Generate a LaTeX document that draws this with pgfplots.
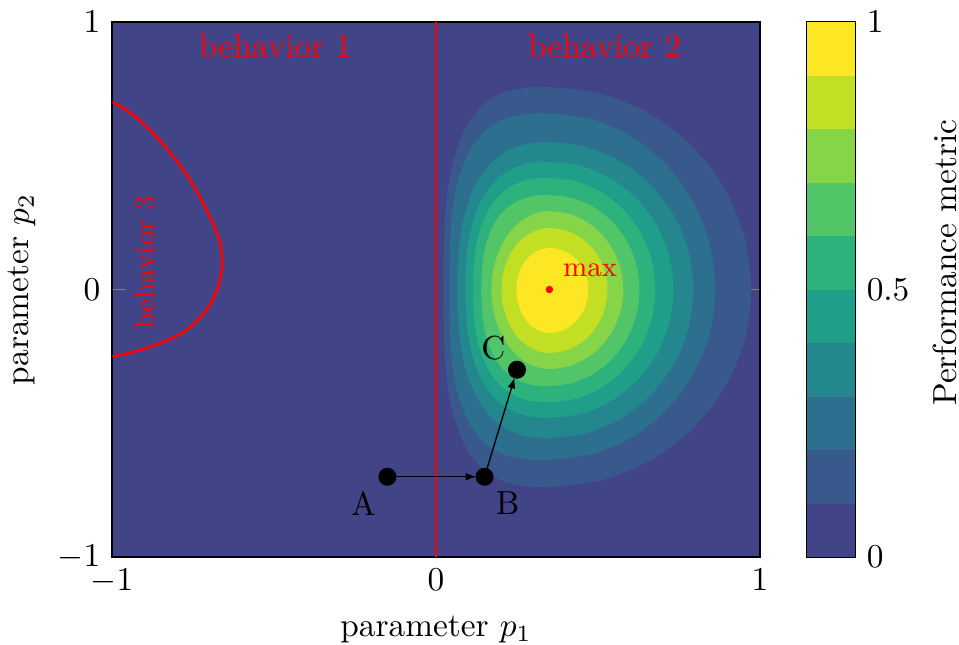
\documentclass[border=0pt]{standalone}
\usepackage{pgfplots}
\pgfplotsset{compat=1.18}
\usetikzlibrary{arrows.meta}
\definecolor{c1}{RGB}{65,68,135}
\definecolor{c2}{RGB}{57,88,140}
\definecolor{c3}{RGB}{45,111,142}
\definecolor{c4}{RGB}{36,135,142}
\definecolor{c5}{RGB}{31,158,137}
\definecolor{c6}{RGB}{45,178,125}
\definecolor{c7}{RGB}{82,197,105}
\definecolor{c8}{RGB}{134,213,73}
\definecolor{c9}{RGB}{194,223,35}
\definecolor{c10}{RGB}{253,231,37}
\begin{document}
\begin{tikzpicture}
\begin{axis}[
  at={(0,0)}, anchor=south west,
  scale only axis, width=194.4pt, height=160.5pt,
  xmin=-1, xmax=1, ymin=-1, ymax=1,
  xtick={-1,0,1}, ytick={-1,0,1},
  tick style={gray, thin},
  axis background/.style={fill=c1},
  xlabel={parameter $p_1$}, ylabel={parameter $p_2$},
  xlabel style={at={(axis description cs:0.5,-0.135)}, anchor=center},
  ylabel style={at={(axis description cs:-0.139,0.5)}, anchor=center},
]
% filled contour regions (levels 0.1 ... 0.9)
\addplot[fill=c2, draw=none, smooth cycle] coordinates {
(0.973,0) (0.952,0.196) (0.890,0.379) (0.791,0.535) (0.662,0.656) (0.511,0.731) (0.35,0.757)
(0.268,0.753) (0.203,0.733) (0.147,0.691) (0.090,0.601) (0.051,0.469) (0.033,0.341) (0.025,0.189) (0.023,0)
(0.025,-0.185) (0.033,-0.332) (0.051,-0.458) (0.090,-0.586) (0.147,-0.674) (0.203,-0.715) (0.268,-0.734) (0.35,-0.738)
(0.511,-0.713) (0.662,-0.639) (0.791,-0.522) (0.890,-0.369) (0.952,-0.191)};
\addplot[fill=c3, draw=none, smooth cycle] coordinates {
(0.862,0) (0.845,0.170) (0.793,0.329) (0.712,0.465) (0.606,0.570) (0.483,0.636) (0.35,0.658)
(0.273,0.655) (0.211,0.637) (0.158,0.601) (0.105,0.522) (0.068,0.408) (0.051,0.296) (0.043,0.165) (0.041,0)
(0.043,-0.159) (0.051,-0.287) (0.068,-0.395) (0.105,-0.506) (0.158,-0.582) (0.211,-0.617) (0.273,-0.634) (0.35,-0.637)
(0.483,-0.615) (0.606,-0.552) (0.712,-0.450) (0.793,-0.319) (0.845,-0.165)};
\addplot[fill=c4, draw=none, smooth cycle] coordinates {
(0.794,0) (0.779,0.143) (0.735,0.276) (0.664,0.390) (0.572,0.477) (0.465,0.532) (0.35,0.551)
(0.279,0.544) (0.222,0.520) (0.174,0.477) (0.135,0.418) (0.104,0.342) (0.082,0.248) (0.070,0.138) (0.066,0)
(0.070,-0.139) (0.082,-0.250) (0.104,-0.344) (0.135,-0.421) (0.174,-0.481) (0.222,-0.524) (0.279,-0.548) (0.35,-0.555)
(0.465,-0.536) (0.572,-0.481) (0.664,-0.392) (0.735,-0.278) (0.779,-0.144)};
\addplot[fill=c5, draw=none, smooth cycle] coordinates {
(0.733,0) (0.720,0.123) (0.682,0.239) (0.621,0.337) (0.542,0.413) (0.449,0.461) (0.35,0.477)
(0.285,0.471) (0.233,0.450) (0.189,0.413) (0.154,0.362) (0.126,0.296) (0.106,0.215) (0.094,0.119) (0.091,0)
(0.094,-0.120) (0.106,-0.216) (0.126,-0.298) (0.154,-0.364) (0.189,-0.416) (0.233,-0.453) (0.285,-0.474) (0.35,-0.480)
(0.449,-0.464) (0.542,-0.416) (0.621,-0.339) (0.682,-0.240) (0.720,-0.124)};
\addplot[fill=c6, draw=none, smooth cycle] coordinates {
(0.677,0) (0.666,0.108) (0.633,0.209) (0.581,0.295) (0.514,0.361) (0.435,0.403) (0.35,0.417)
(0.291,0.412) (0.244,0.393) (0.204,0.361) (0.172,0.316) (0.147,0.259) (0.128,0.188) (0.118,0.104) (0.115,0)
(0.118,-0.105) (0.128,-0.190) (0.147,-0.261) (0.172,-0.319) (0.204,-0.365) (0.244,-0.397) (0.291,-0.416) (0.35,-0.421)
(0.435,-0.407) (0.514,-0.365) (0.581,-0.298) (0.633,-0.211) (0.666,-0.109)};
\addplot[fill=c7, draw=none, smooth cycle] coordinates {
(0.628,0) (0.619,0.091) (0.591,0.177) (0.547,0.250) (0.489,0.306) (0.422,0.341) (0.35,0.353)
(0.298,0.349) (0.256,0.333) (0.220,0.306) (0.191,0.268) (0.168,0.219) (0.152,0.159) (0.143,0.088) (0.140,0)
(0.143,-0.090) (0.152,-0.163) (0.168,-0.224) (0.191,-0.274) (0.220,-0.313) (0.256,-0.341) (0.298,-0.357) (0.35,-0.361)
(0.422,-0.349) (0.489,-0.313) (0.547,-0.255) (0.591,-0.181) (0.619,-0.093)};
\addplot[fill=c8, draw=none, smooth cycle] coordinates {
(0.578,0) (0.570,0.076) (0.547,0.147) (0.511,0.207) (0.464,0.254) (0.409,0.283) (0.35,0.293)
(0.304,0.283) (0.261,0.254) (0.223,0.207) (0.195,0.147) (0.177,0.076) (0.171,0)
(0.177,-0.077) (0.195,-0.149) (0.223,-0.210) (0.261,-0.257) (0.304,-0.287) (0.35,-0.297)
(0.409,-0.287) (0.464,-0.257) (0.511,-0.210) (0.547,-0.149) (0.570,-0.077)};
\addplot[fill=c9, draw=none, smooth cycle] coordinates {
(0.529,0) (0.523,0.060) (0.505,0.115) (0.477,0.163) (0.440,0.199) (0.396,0.222) (0.35,0.230)
(0.312,0.222) (0.276,0.199) (0.245,0.163) (0.222,0.115) (0.207,0.060) (0.202,0)
(0.207,-0.061) (0.222,-0.119) (0.245,-0.168) (0.276,-0.205) (0.312,-0.229) (0.35,-0.237)
(0.396,-0.229) (0.440,-0.205) (0.477,-0.168) (0.505,-0.119) (0.523,-0.061)};
\addplot[fill=c10, draw=none, smooth cycle] coordinates {
(0.470,0) (0.466,0.040) (0.454,0.078) (0.435,0.110) (0.410,0.134) (0.381,0.150) (0.35,0.155)
(0.324,0.150) (0.299,0.134) (0.278,0.110) (0.262,0.078) (0.252,0.040) (0.248,0)
(0.252,-0.042) (0.262,-0.082) (0.278,-0.115) (0.299,-0.141) (0.324,-0.157) (0.35,-0.163)
(0.381,-0.157) (0.410,-0.141) (0.435,-0.115) (0.454,-0.082) (0.466,-0.042)};
% behaviour boundaries
\addplot[red, line width=0.8pt] coordinates {(0,-1) (0,1)};
\addplot[red, line width=0.8pt, smooth] coordinates {(-0.998,0.702) (-0.934,0.652) (-0.873,0.584) (-0.811,0.497) (-0.759,0.409) (-0.708,0.297) (-0.672,0.197) (-0.660,0.110) (-0.672,0.010) (-0.708,-0.076) (-0.769,-0.151) (-0.852,-0.201) (-0.934,-0.233) (-0.998,-0.251)};
% path A -> B -> C
\addplot[black, thin, -{Latex[length=3.2pt,width=2.4pt]}, shorten >=2.5pt] coordinates {(-0.15,-0.7) (0.15,-0.7)};
\addplot[black, thin, -{Latex[length=3.2pt,width=2.4pt]}, shorten >=2.5pt] coordinates {(0.15,-0.7) (0.25,-0.3)};
\addplot[only marks, mark=*, mark size=2.5pt, black] coordinates {(-0.15,-0.7) (0.15,-0.7) (0.25,-0.3)};
\addplot[only marks, mark=*, mark size=0.9pt, red] coordinates {(0.35,0)};
% labels
\node[red, anchor=base] at (axis cs:-0.495,0.867) {behavior 1};
\node[red, anchor=base] at (axis cs:0.52,0.867) {behavior 2};
\node[red, rotate=90, font=\fontsize{8.5}{10}\selectfont] at (axis cs:-0.898,0.101) {behavior 3};
\node[red, anchor=west, inner sep=0pt, font=\fontsize{8.5}{10}\selectfont] at (axis cs:0.39,0.071) {max};
\node at (axis cs:-0.224,-0.799) {A};
\node at (axis cs:0.221,-0.799) {B};
\node at (axis cs:0.177,-0.220) {C};
\end{axis}
% colour bar
\begin{axis}[
  at={(208.5pt,0)}, anchor=south west,
  scale only axis, width=14.4pt, height=160.5pt,
  xmin=0, xmax=1, ymin=0, ymax=1,
  xtick=\empty, ytick={0,0.5,1},
  yticklabel pos=right,
  tick style={gray, thin},
  ylabel={Performance metric},
  ylabel style={at={(axis description cs:2.875,0.55)}, anchor=center},
]
\addplot[fill=c1, draw=none] coordinates {(0,0.0) (1,0.0) (1,0.1) (0,0.1)};
\addplot[fill=c2, draw=none] coordinates {(0,0.1) (1,0.1) (1,0.2) (0,0.2)};
\addplot[fill=c3, draw=none] coordinates {(0,0.2) (1,0.2) (1,0.3) (0,0.3)};
\addplot[fill=c4, draw=none] coordinates {(0,0.3) (1,0.3) (1,0.4) (0,0.4)};
\addplot[fill=c5, draw=none] coordinates {(0,0.4) (1,0.4) (1,0.5) (0,0.5)};
\addplot[fill=c6, draw=none] coordinates {(0,0.5) (1,0.5) (1,0.6) (0,0.6)};
\addplot[fill=c7, draw=none] coordinates {(0,0.6) (1,0.6) (1,0.7) (0,0.7)};
\addplot[fill=c8, draw=none] coordinates {(0,0.7) (1,0.7) (1,0.8) (0,0.8)};
\addplot[fill=c9, draw=none] coordinates {(0,0.8) (1,0.8) (1,0.9) (0,0.9)};
\addplot[fill=c10, draw=none] coordinates {(0,0.9) (1,0.9) (1,1.0) (0,1.0)};
\end{axis}
\pgfresetboundingbox
\useasboundingbox (-33.6pt,-26.4pt) rectangle (254.1pt,167.1pt);
\end{tikzpicture}
\end{document}
